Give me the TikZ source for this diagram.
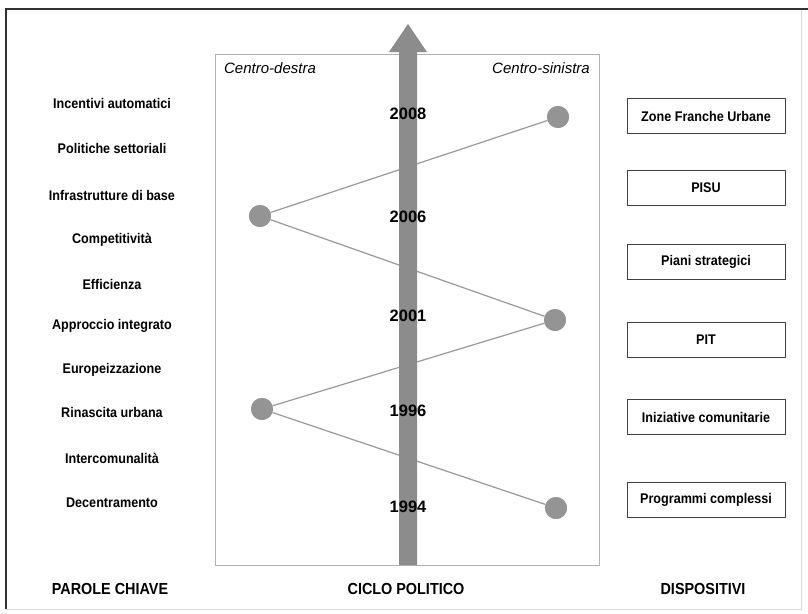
\documentclass[tikz,border=0pt]{standalone}
\usepackage{fontspec}
\setmainfont{Liberation Sans}
\newfontfamily\cnd[FakeStretch=0.9]{Liberation Sans}
\begin{document}
\begin{tikzpicture}[x=1pt,y=-1pt,
  kw/.style={font=\cnd\fontsize{14}{16}\selectfont\bfseries},
  dev/.style={draw=black!75, line width=0.8pt, minimum width=158pt, minimum height=35pt, font=\cnd\fontsize{14}{16}\selectfont\bfseries},
  yr/.style={font=\fontsize{16.5}{18}\selectfont\bfseries},
  dot/.style={circle, fill=black!42, minimum size=22pt, inner sep=0pt},
  link/.style={draw=black!40, line width=1.2pt},
  head/.style={font=\cnd\fontsize{16}{18}\selectfont\bfseries},
  side/.style={font=\fontsize{15}{17}\selectfont\itshape}]
\useasboundingbox (0,0) rectangle (808,613);
% outer frame
\draw[black!15, line width=1pt] (801,9) -- (801,609) -- (6,609);
\draw[black!80, line width=2pt] (6,609) -- (6,9) -- (808,9);
% central box
\draw[black!30, line width=0.8pt] (215,54) rectangle (599,565);
\node[side] (cd) at (270,68) {Centro-destra};
\node[side] (cs) at (541,68) {Centro-sinistra};
% dots
\node[dot] (c1) at (558,117) {};
\node[dot] (c2) at (260,216) {};
\node[dot] (c3) at (555,320) {};
\node[dot] (c4) at (262,409) {};
\node[dot] (c5) at (556,508) {};
\path[link] (c1) -- (c2) -- (c3) -- (c4) -- (c5);
% arrow
\fill[black!45] (399,565) -- (399,52) -- (389,52) -- (408,24) -- (427,52) -- (417,52) -- (417,565) -- cycle;
\node[dot] at (c1) {};
\node[dot] at (c2) {};
\node[dot] at (c3) {};
\node[dot] at (c4) {};
\node[dot] at (c5) {};
% years
\node[yr] (y1) at (408,114) {2008};
\node[yr] (y2) at (408,217) {2006};
\node[yr] (y3) at (408,316) {2001};
\node[yr] (y4) at (408,411) {1996};
\node[yr] (y5) at (408,507) {1994};
% keywords
\node[kw] (k1) at (112,103) {Incentivi automatici};
\node[kw] (k2) at (112,148) {Politiche settoriali};
\node[kw] (k3) at (112,195) {Infrastrutture di base};
\node[kw] (k4) at (112,240) {Competitività};
\node[kw] (k5) at (112,284) {Efficienza};
\node[kw] (k6) at (112,326) {Approccio integrato};
\node[kw] (k7) at (112,370) {Europeizzazione};
\node[kw] (k8) at (112,412) {Rinascita urbana};
\node[kw] (k9) at (112,458) {Intercomunalità};
\node[kw] (k10) at (112,503) {Decentramento};
% devices
\node[dev] (d1) at (706,116) {Zone Franche Urbane};
\node[dev] (d2) at (706,188) {PISU};
\node[dev] (d3) at (706,262) {Piani strategici};
\node[dev] (d4) at (706,340) {PIT};
\node[dev] (d5) at (706,417) {Iniziative comunitarie};
\node[dev] (d6) at (706,500) {Programmi complessi};
% headings
\node[head] (h1) at (110,589) {PAROLE CHIAVE};
\node[head] (h2) at (406,589) {CICLO POLITICO};
\node[head] (h3) at (703,589) {DISPOSITIVI};
\end{tikzpicture}
\end{document}
